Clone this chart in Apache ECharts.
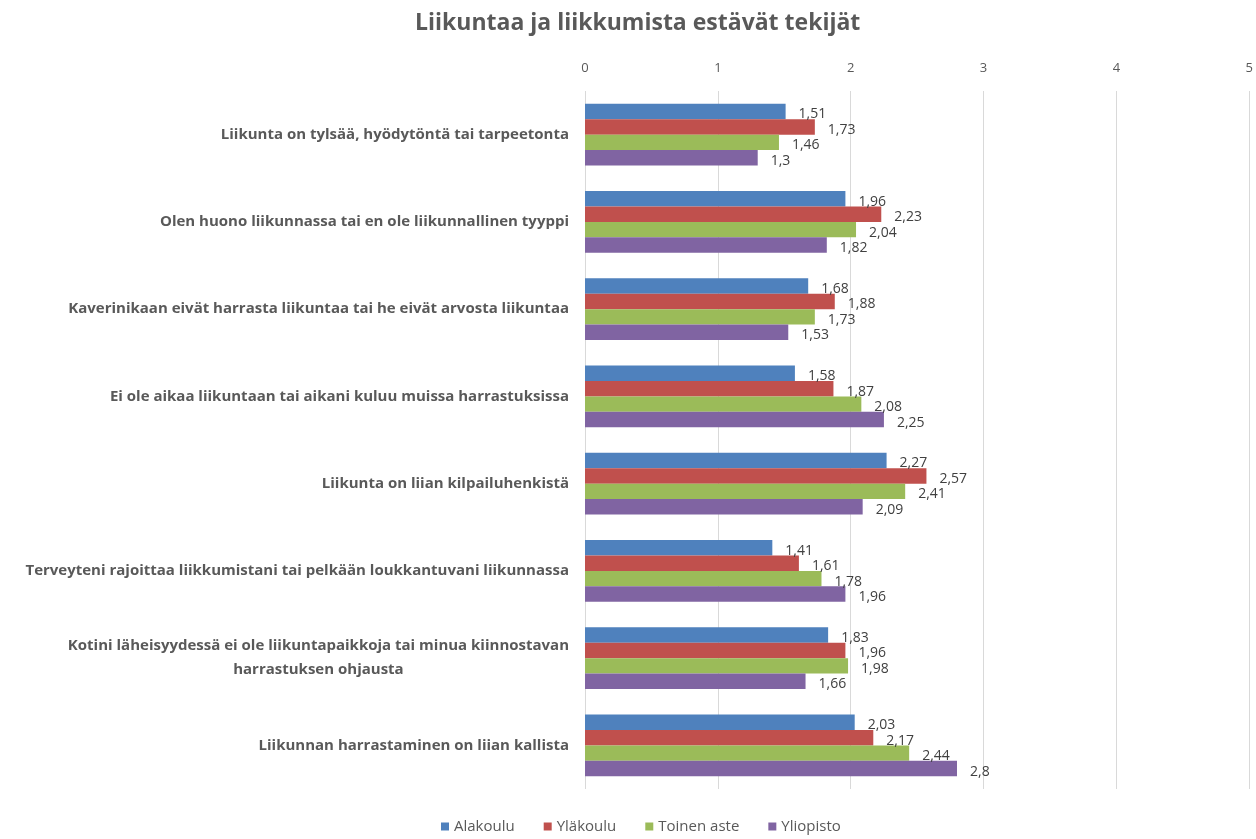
<!DOCTYPE html>
<html>
<head>
<meta charset="utf-8">
<script src="https://cdn.jsdelivr.net/npm/echarts@6/dist/echarts.min.js"></script>
<style>
    html, body { margin: 0; padding: 0; background: #fff; }
    #main { width: 1256px; height: 839px; }
</style>
</head>
<body>
<div id="main"></div>
<script>
var categories = [
    'Liikunta on tylsää, hyödytöntä tai tarpeetonta',
    'Olen huono liikunnassa tai en ole liikunnallinen tyyppi',
    'Kaverinikaan eivät harrasta liikuntaa tai he eivät arvosta liikuntaa',
    'Ei ole aikaa liikuntaan tai aikani kuluu muissa harrastuksissa',
    'Liikunta on liian kilpailuhenkistä',
    'Terveyteni rajoittaa liikkumistani tai pelkään loukkantuvani liikunnassa',
    'Kotini läheisyydessä ei ole liikuntapaikkoja tai minua kiinnostavan\nharrastuksen ohjausta',
    'Liikunnan harrastaminen on liian kallista'
];
var seriesNames = ['Alakoulu', 'Yläkoulu', 'Toinen aste', 'Yliopisto'];
var alakoulu = [1.51, 1.96, 1.68, 1.58, 2.27, 1.41, 1.83, 2.03];
var ylakoulu = [1.73, 2.23, 1.88, 1.87, 2.57, 1.61, 1.96, 2.17];
var toinenAste = [1.46, 2.04, 1.73, 2.08, 2.41, 1.78, 1.98, 2.44];
var yliopisto = [1.3, 1.82, 1.53, 2.25, 2.09, 1.96, 1.66, 2.8];
var xTicks = [0, 1, 2, 3, 4, 5];

var colors = ['#4f81bd', '#c0504d', '#9bbb59', '#8064a2'];
var values = [alakoulu, ylakoulu, toinenAste, yliopisto];

var myChart = echarts.init(document.getElementById('main'));

function makeSeries(i) {
    return {
        name: seriesNames[i],
        type: 'bar',
        barGap: '0%',
        barCategoryGap: '29%',
        data: values[i],
        itemStyle: { color: colors[i] },
        label: {
            show: true,
            position: 'right',
            distance: 13,
            offset: [0, 3],
            color: '#404040',
            fontSize: 14,
            fontFamily: 'Open Sans',
            formatter: function (p) {
                return String(p.value).replace('.', ',');
            }
        }
    };
}

var option = {
    backgroundColor: '#fff',
    animation: false,
    title: {
        text: 'Liikuntaa ja liikkumista estävät tekijät',
        left: 410,
        top: 7,
        textStyle: {
            color: '#595959',
            fontSize: 23,
            fontWeight: 'bold',
            fontFamily: 'Open Sans'
        }
    },
    legend: {
        bottom: 0,
        left: 436,
        icon: 'rect',
        itemWidth: 8,
        itemHeight: 8,
        itemGap: 29,
        textStyle: { color: '#595959', fontSize: 15, fontFamily: 'Open Sans' },
        data: seriesNames
    },
    grid: {
        left: 585,
        right: 4,
        top: 91,
        bottom: 50
    },
    xAxis: {
        type: 'value',
        position: 'top',
        min: xTicks[0],
        max: xTicks[xTicks.length - 1],
        interval: 1,
        axisLine: { show: false },
        axisTick: { show: false },
        axisLabel: { color: '#595959', fontSize: 13, fontFamily: 'Open Sans', margin: 16 },
        splitLine: { lineStyle: { color: '#d9d9d9' } }
    },
    yAxis: {
        type: 'category',
        inverse: true,
        data: categories,
        axisLine: { show: false },
        axisTick: { show: false },
        axisLabel: {
            color: '#595959',
            fontSize: 15,
            fontWeight: 'bold',
            fontFamily: 'Open Sans',
            margin: 16,
            lineHeight: 24,
            formatter: function (v) {
                var parts = v.split('\n');
                if (parts.length === 1) return v;
                return parts[0] + '\n{c|' + parts[1] + '}';
            },
            rich: {
                c: {
                    align: 'center',
                    color: '#595959',
                    fontSize: 15,
                    fontWeight: 'bold',
                    fontFamily: 'Open Sans',
                    lineHeight: 24
                }
            }
        }
    },
    series: [makeSeries(0), makeSeries(1), makeSeries(2), makeSeries(3)]
};

myChart.setOption(option);
</script>
</body>
</html>
